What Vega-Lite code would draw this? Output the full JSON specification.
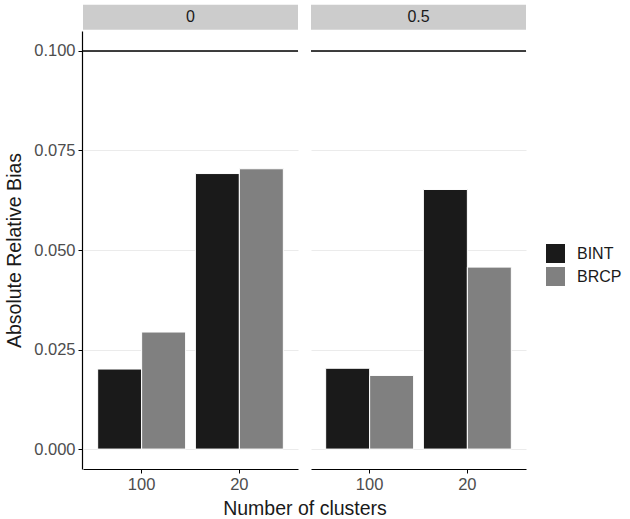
{
  "$schema": "https://vega.github.io/schema/vega-lite/v6.json",
  "padding": {"left": 4, "top": 4, "right": 0, "bottom": 0},
  "background": "white",
  "data": {"values": [
    {"rho": "0", "clusters": "100", "method": "BINT", "bias": 0.0201},
    {"rho": "0", "clusters": "100", "method": "BRCP", "bias": 0.0294},
    {"rho": "0", "clusters": "20", "method": "BINT", "bias": 0.0692},
    {"rho": "0", "clusters": "20", "method": "BRCP", "bias": 0.0704},
    {"rho": "0.5", "clusters": "100", "method": "BINT", "bias": 0.0203},
    {"rho": "0.5", "clusters": "100", "method": "BRCP", "bias": 0.0185},
    {"rho": "0.5", "clusters": "20", "method": "BINT", "bias": 0.0652},
    {"rho": "0.5", "clusters": "20", "method": "BRCP", "bias": 0.0457}
  ]},
  "facet": {"column": {"field": "rho", "type": "nominal", "header": {"labels": false, "title": "Number of clusters", "titleOrient": "bottom", "titleFontSize": 19.5, "titleFontWeight": "normal", "titleFont": "Liberation Sans", "titleColor": "#1a1a1a", "titlePadding": -3}}},
  "spacing": 11,
  "spec": {
    "width": 215,
    "height": 438,
    "layer": [
      {
        "mark": {"type": "bar", "stroke": "white", "strokeWidth": 1},
        "encoding": {
          "x": {"field": "clusters", "type": "nominal", "sort": ["100", "20"], "scale": {"paddingInner": 0.1, "paddingOuter": 0.15}, "axis": {"title": null, "labelAngle": 0, "labelFontSize": 16.5, "labelColor": "#4d4d4d", "labelFont": "Liberation Sans", "domainColor": "black", "domainWidth": 1.2, "tickColor": "black", "tickSize": 4, "labelPadding": 3}},
          "xOffset": {"field": "method", "type": "nominal", "scale": {"paddingInner": 0, "paddingOuter": 0}},
          "y": {"field": "bias", "type": "quantitative", "title": "Absolute Relative Bias", "scale": {"domain": [-0.005, 0.105], "nice": false, "zero": false}, "axis": {"values": [0, 0.025, 0.05, 0.075, 0.1], "format": ".3f", "labelFontSize": 16.5, "labelColor": "#4d4d4d", "labelFont": "Liberation Sans", "titleFontSize": 19.5, "titleFont": "Liberation Sans", "titleFontWeight": "normal", "titleColor": "#1a1a1a", "grid": true, "gridColor": "#ebebeb", "gridWidth": 1, "domainColor": "black", "domainWidth": 1.2, "tickColor": "black", "tickSize": 4, "labelPadding": 3, "titlePadding": 9}},
          "color": {"field": "method", "type": "nominal", "scale": {"domain": ["BINT", "BRCP"], "range": ["#1a1a1a", "#808080"]}, "legend": {"title": null, "orient": "none", "legendX": 463, "legendY": 213, "symbolType": "square", "symbolSize": 361, "symbolStrokeWidth": 0, "symbolOpacity": 1, "labelFontSize": 16, "labelFont": "Liberation Sans", "labelColor": "#1a1a1a", "labelOffset": 12, "rowPadding": 4}}
        }
      },
      {
        "transform": [{"filter": "datum.method === 'BINT' && datum.clusters === '100'"}],
        "mark": {"type": "rule", "color": "black", "strokeWidth": 1.5},
        "encoding": {"y": {"datum": 0.1, "type": "quantitative", "title": "Absolute Relative Bias"}}
      },
      {
        "transform": [{"filter": "datum.method === 'BINT' && datum.clusters === '100'"}],
        "mark": {"type": "rect", "color": "#cccccc"},
        "encoding": {"y": {"datum": 0.1053, "type": "quantitative", "title": "Absolute Relative Bias"}, "y2": {"datum": 0.1116}}
      },
      {
        "transform": [{"filter": "datum.method === 'BINT' && datum.clusters === '100'"}],
        "mark": {"type": "text", "fontSize": 16, "font": "Liberation Sans", "color": "#1a1a1a", "baseline": "middle"},
        "encoding": {"y": {"datum": 0.1085, "type": "quantitative", "title": "Absolute Relative Bias"}, "text": {"field": "rho"}}
      }
    ]
  },
  "config": {"view": {"stroke": null}}
}
